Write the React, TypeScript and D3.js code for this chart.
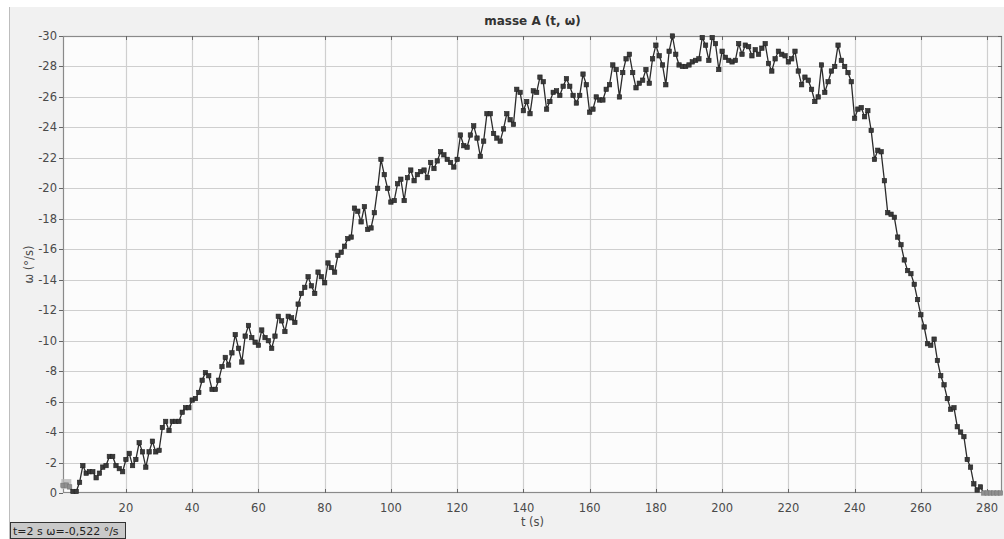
import React, { useEffect, useRef } from 'react';
import * as d3 from 'd3';

// time in seconds, one sample per second starting at t = 1
const startTime = 1;
const omegaValues: number[] = [
    -0.5, -0.52, -0.4, -0.1, -0.1, -0.7, -1.8, -1.3, -1.4, -1.4,
    -1.0, -1.3, -1.7, -1.8, -2.4, -2.4, -1.8, -1.6, -1.4, -2.2,
    -2.6, -1.8, -2.2, -3.3, -2.7, -1.7, -2.7, -3.4, -2.7, -2.8,
    -4.3, -4.7, -4.1, -4.7, -4.7, -4.7, -5.3, -5.6, -5.6, -6.1,
    -6.2, -6.6, -7.4, -7.9, -7.7, -6.8, -6.8, -7.4, -8.3, -8.9,
    -8.4, -9.2, -10.4, -9.5, -8.6, -10.3, -11.0, -10.2, -9.9, -9.7,
    -10.7, -10.2, -10.0, -9.5, -10.3, -11.6, -11.3, -10.6, -11.6, -11.5,
    -11.2, -12.4, -13.1, -13.5, -14.2, -13.6, -13.1, -14.5, -14.2, -13.8,
    -15.1, -14.8, -14.5, -15.6, -15.8, -16.2, -16.7, -16.8, -18.7, -18.5,
    -17.8, -18.8, -17.3, -17.4, -18.4, -20.0, -21.9, -20.9, -20.0, -19.1,
    -19.2, -20.3, -20.6, -19.2, -20.7, -21.2, -20.5, -20.9, -21.1, -21.2,
    -20.7, -21.7, -21.3, -21.8, -22.4, -22.2, -21.9, -21.7, -21.4, -21.9,
    -23.5, -22.8, -22.7, -23.5, -24.1, -23.3, -22.1, -23.1, -24.9, -24.9,
    -23.6, -23.3, -23.1, -23.9, -24.9, -24.5, -24.2, -26.5, -26.3, -25.1,
    -25.7, -24.9, -26.4, -26.3, -27.3, -27.0, -25.2, -25.7, -26.3, -26.4,
    -26.1, -26.7, -27.2, -26.7, -26.1, -25.6, -26.1, -27.5, -26.8, -25.0,
    -25.2, -26.0, -25.8, -25.8, -26.5, -26.8, -28.1, -27.8, -26.0, -27.6,
    -28.5, -28.8, -27.6, -26.6, -26.9, -27.1, -27.8, -26.9, -28.5, -29.4,
    -28.7, -28.1, -26.8, -29.0, -30.0, -28.8, -28.1, -28.0, -28.0, -28.1,
    -28.3, -28.4, -28.5, -29.9, -29.4, -28.4, -29.9, -29.5, -27.8, -29.0,
    -28.6, -28.4, -28.3, -28.4, -29.5, -28.8, -29.4, -29.3, -28.7, -29.1,
    -28.8, -29.2, -29.5, -28.2, -27.7, -28.5, -29.0, -28.8, -28.7, -28.3,
    -28.5, -29.0, -27.7, -26.8, -27.3, -27.1, -26.5, -25.7, -26.0, -28.1,
    -26.3, -27.0, -27.7, -28.0, -29.4, -28.4, -28.0, -27.6, -27.0, -24.6,
    -25.2, -25.3, -24.7, -25.1, -23.8, -21.9, -22.5, -22.4, -20.5, -18.4,
    -18.3, -18.1, -16.8, -16.3, -15.3, -14.6, -14.4, -13.7, -12.7, -11.7,
    -10.9, -9.8, -9.7, -10.1, -8.7, -7.7, -7.1, -6.2, -5.5, -5.6,
    -4.35, -4.0, -3.7, -2.2, -1.7, -0.6, -0.2, -0.4, 0, 0,
    0, 0, 0, 0
];

const xTicks = [20, 40, 60, 80, 100, 120, 140, 160, 180, 200, 220, 240, 260, 280];
const yTicks = [0, -2, -4, -6, -8, -10, -12, -14, -16, -18, -20, -22, -24, -26, -28, -30];
const selectedTime = 2;
const selectedText = 't=2 s  ω=-0,522 °/s';
const idleTimes = [1, 2, 3, 279, 280, 281, 282, 283, 284];

const App: React.FC = () => {
    const svgRef = useRef<SVGSVGElement | null>(null);

    useEffect(() => {
        const width = 1004;
        const height = 539;
        const plot = { left: 63, top: 36, right: 1002, bottom: 493 };
        const font = '"DejaVu Sans", sans-serif';

        const data = omegaValues.map((w, i) => ({ t: startTime + i, w }));

        const x = d3.scaleLinear().domain([1, 284.5]).range([plot.left, plot.right]);
        const y = d3.scaleLinear().domain([0, -30]).range([plot.bottom, plot.top]);

        const svg = d3.select(svgRef.current)
            .attr('width', width)
            .attr('height', height);
        svg.selectAll('*').remove();

        svg.append('rect').attr('width', width).attr('height', height).attr('fill', '#ffffff');
        svg.append('rect')
            .attr('x', 10).attr('y', 7)
            .attr('width', width - 10).attr('height', height - 7)
            .attr('fill', '#f1f1f1');
        svg.append('line')
            .attr('x1', 9.5).attr('x2', 9.5).attr('y1', 7).attr('y2', height)
            .attr('stroke', '#bdbdbd');

        svg.append('rect')
            .attr('x', plot.left).attr('y', plot.top)
            .attr('width', plot.right - plot.left).attr('height', plot.bottom - plot.top)
            .attr('fill', '#fcfcfc');

        // grid
        svg.append('g').selectAll('line')
            .data(xTicks)
            .enter()
            .append('line')
            .attr('x1', d => Math.round(x(d)) + 0.5).attr('x2', d => Math.round(x(d)) + 0.5)
            .attr('y1', plot.top).attr('y2', plot.bottom)
            .attr('stroke', '#cfcfcf').attr('stroke-width', 1.2);

        svg.append('g').selectAll('line')
            .data(yTicks.filter(d => d !== 0 && d !== -30))
            .enter()
            .append('line')
            .attr('x1', plot.left).attr('x2', plot.right)
            .attr('y1', d => Math.round(y(d)) + 0.5).attr('y2', d => Math.round(y(d)) + 0.5)
            .attr('stroke', '#cfcfcf').attr('stroke-width', 1.2);

        // frame
        svg.append('rect')
            .attr('x', plot.left + 0.5).attr('y', plot.top + 0.5)
            .attr('width', plot.right - plot.left - 1).attr('height', plot.bottom - plot.top - 1)
            .attr('fill', 'none').attr('stroke', '#8a8a8a').attr('stroke-width', 1.2);

        // small ticks on the frame
        const tickG = svg.append('g').attr('stroke', '#666');
        xTicks.forEach(t => {
            const px = Math.round(x(t)) + 0.5;
            tickG.append('line').attr('x1', px).attr('x2', px).attr('y1', plot.bottom).attr('y2', plot.bottom - 4);
            tickG.append('line').attr('x1', px).attr('x2', px).attr('y1', plot.top).attr('y2', plot.top + 4);
        });
        yTicks.forEach(v => {
            const py = Math.round(y(v)) + 0.5;
            tickG.append('line').attr('x1', plot.left - 4).attr('x2', plot.left).attr('y1', py).attr('y2', py);
            tickG.append('line').attr('x1', plot.right - 4).attr('x2', plot.right).attr('y1', py).attr('y2', py);
        });

        // tick labels
        svg.append('g').selectAll('text')
            .data(yTicks)
            .enter()
            .append('text')
            .attr('x', plot.left - 6)
            .attr('y', d => y(d) + 4)
            .attr('text-anchor', 'end')
            .style('font-family', font)
            .style('font-size', '11.5px')
            .attr('fill', '#4a4a4a')
            .text(d => String(d));

        svg.append('g').selectAll('text')
            .data(xTicks)
            .enter()
            .append('text')
            .attr('x', d => x(d))
            .attr('y', plot.bottom + 19)
            .attr('text-anchor', 'middle')
            .style('font-family', font)
            .style('font-size', '11.5px')
            .attr('fill', '#4a4a4a')
            .text(d => String(d));

        // axis titles
        svg.append('text')
            .attr('x', (plot.left + plot.right) / 2)
            .attr('y', 25)
            .attr('text-anchor', 'middle')
            .style('font-family', font)
            .style('font-size', '12px')
            .style('font-weight', 'bold')
            .attr('fill', '#333')
            .text('masse A (t, ω)');

        svg.append('text')
            .attr('x', (plot.left + plot.right) / 2)
            .attr('y', plot.bottom + 33)
            .attr('text-anchor', 'middle')
            .style('font-family', font)
            .style('font-size', '11.5px')
            .attr('fill', '#4a4a4a')
            .text('t (s)');

        svg.append('text')
            .attr('transform', `translate(33, ${(plot.top + plot.bottom) / 2}) rotate(-90)`)
            .attr('text-anchor', 'middle')
            .style('font-family', font)
            .style('font-size', '11.5px')
            .attr('fill', '#4a4a4a')
            .text('ω (°/s)');

        // series
        const line = d3.line<{ t: number; w: number }>()
            .x(d => x(d.t))
            .y(d => y(d.w));

        svg.append('path')
            .datum(data)
            .attr('d', line)
            .attr('fill', 'none')
            .attr('stroke', '#2b2b2b')
            .attr('stroke-width', 1.3);

        const sel = data.find(d => d.t === selectedTime)!;
        svg.append('rect')
            .attr('x', x(sel.t) - 5).attr('y', y(sel.w) - 6)
            .attr('width', 10).attr('height', 10)
            .attr('fill', '#b5b5b5').attr('opacity', 0.8);

        svg.append('g').selectAll('rect')
            .data(data)
            .enter()
            .append('rect')
            .attr('x', d => x(d.t) - 2.2)
            .attr('y', d => y(d.w) - 2.2)
            .attr('width', 4.4)
            .attr('height', 4.4)
            .attr('fill', d => idleTimes.includes(d.t) ? '#8f8f8f' : '#3a3a3a')
            .attr('stroke', d => idleTimes.includes(d.t) ? '#777' : '#222')
            .attr('stroke-width', 0.6);

        // status box
        svg.append('rect')
            .attr('x', 10.5).attr('y', 522.5)
            .attr('width', 115).attr('height', 16)
            .attr('fill', '#c9c9c9').attr('stroke', '#333');
        svg.append('text')
            .attr('x', 13).attr('y', 535)
            .style('font-family', font)
            .style('font-size', '11px')
            .attr('fill', '#222')
            .text(selectedText);
    }, []);

    return (
        <div style={{ position: 'absolute', left: 0, top: 0 }}>
            <svg ref={svgRef}></svg>
        </div>
    );
};

export default App;
